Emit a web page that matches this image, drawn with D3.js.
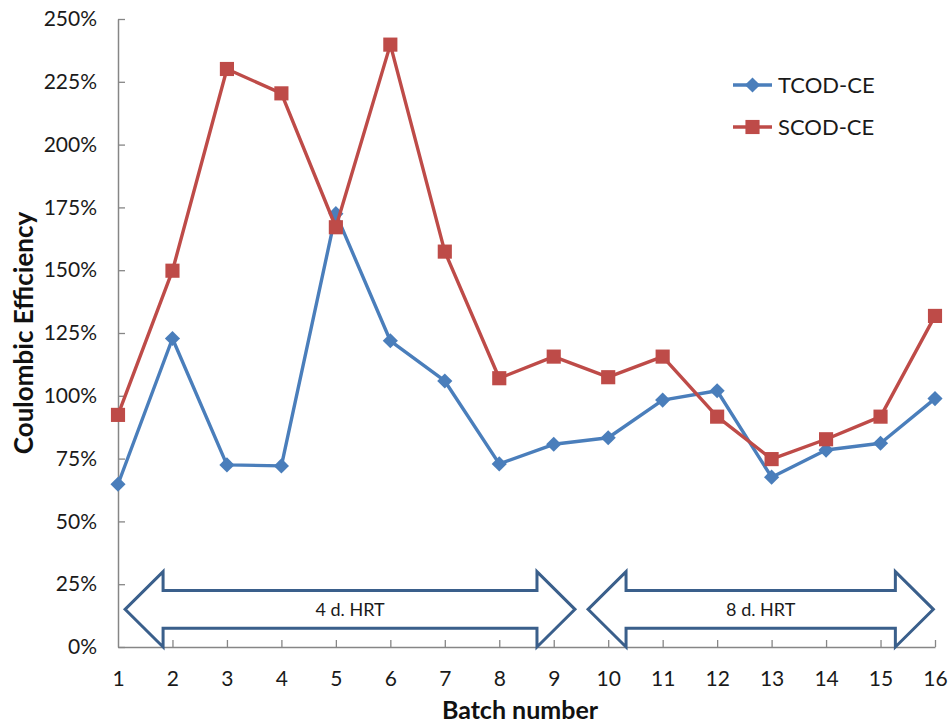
<!DOCTYPE html>
<html>
<head>
<meta charset="utf-8">
<script src="https://cdn.jsdelivr.net/npm/d3@7"></script>
<style>
  html, body { margin: 0; padding: 0; background: #fff; }
  svg { display: block; font-family: Lato, "Open Sans", sans-serif; }
</style>
</head>
<body>
<svg id="chart" width="950" height="727"></svg>
<script>
// Batch numbers and coulombic efficiency (%) per batch
const batches = [1, 2, 3, 4, 5, 6, 7, 8, 9, 10, 11, 12, 13, 14, 15, 16];
const tcodCE = [64.8, 122.8, 72.5, 72.1, 172.5, 121.9, 105.9, 72.9, 80.7, 83.3, 98.3, 102.0, 67.6, 78.4, 81.1, 98.9];
const scodCE = [92.4, 149.8, 230.1, 220.4, 167.1, 239.8, 157.4, 107.0, 115.6, 107.4, 115.6, 91.7, 74.8, 82.7, 91.7, 131.8];
const seriesNames = ["TCOD-CE", "SCOD-CE"];
const yTicks = [0, 25, 50, 75, 100, 125, 150, 175, 200, 225, 250];

// Hydraulic retention time periods, spans in batch units
const hrtLabels = ["4 d. HRT", "8 d. HRT"];
const hrtStart = [1.13, 9.63];
const hrtEnd = [9.39, 15.97];

const colors = { "TCOD-CE": "#4A7EBB", "SCOD-CE": "#BE4B48" };
const axisColor = "#868686";
const arrowColor = "#3A5F8B";

const svg = d3.select("#chart");
const margin = { left: 118, right: 15, top: 19, bottom: 80 };
const W = 950, H = 727;

const x = d3.scaleLinear().domain([1, 16]).range([margin.left, W - margin.right]);
const y = d3.scaleLinear().domain([0, 250]).range([H - margin.bottom, margin.top]);

// Y axis: ticks point inward
const yAxis = d3.axisLeft(y)
  .tickValues(yTicks)
  .tickFormat(d => d + "%")
  .tickSize(-7)
  .tickSizeOuter(0)
  .tickPadding(21);
const gy = svg.append("g").attr("transform", `translate(${margin.left},0)`).call(yAxis);

// X axis
const xAxis = d3.axisBottom(x)
  .tickValues(batches)
  .tickFormat(d3.format("d"))
  .tickSize(-7)
  .tickSizeOuter(0)
  .tickPadding(24);
const gx = svg.append("g").attr("transform", `translate(0,${y(0)})`).call(xAxis);

[gx, gy].forEach(g => {
  g.select(".domain").attr("stroke", axisColor).attr("stroke-width", 1.5);
  g.selectAll(".tick line").attr("stroke", axisColor).attr("stroke-width", 1.3);
  g.selectAll(".tick text").attr("fill", "#1a1a1a").attr("font-size", 21).attr("font-family", "Lato, sans-serif");
});
gx.selectAll(".tick").filter(d => d === 1).select("line").remove();

// Axis titles
svg.append("text")
  .attr("transform", `translate(33,${(y(0) + y(250)) / 2}) rotate(-90)`)
  .attr("text-anchor", "middle")
  .attr("font-weight", "bold")
  .attr("font-size", 26)
  .attr("fill", "#111")
  .text("Coulombic Efficiency");

svg.append("text")
  .attr("x", 520)
  .attr("y", 719)
  .attr("text-anchor", "middle")
  .attr("font-weight", "bold")
  .attr("font-size", 25)
  .attr("fill", "#111")
  .text("Batch number");

// HRT double-headed arrows
const arrowTop = 30, arrowBottom = 0, shaftHalf = 7.5, headLen = 38;
const arrowG = svg.append("g");
hrtLabels.forEach((label, i) => {
  const x0 = x(hrtStart[i]), x1 = x(hrtEnd[i]);
  const ym = y((arrowTop + arrowBottom) / 2);
  const yt = y(arrowTop), yb = y(arrowBottom);
  const st = y((arrowTop + arrowBottom) / 2 + shaftHalf), sb = y((arrowTop + arrowBottom) / 2 - shaftHalf);
  const p = d3.path();
  p.moveTo(x0, ym);
  p.lineTo(x0 + headLen, yt);
  p.lineTo(x0 + headLen, st);
  p.lineTo(x1 - headLen, st);
  p.lineTo(x1 - headLen, yt);
  p.lineTo(x1, ym);
  p.lineTo(x1 - headLen, yb);
  p.lineTo(x1 - headLen, sb);
  p.lineTo(x0 + headLen, sb);
  p.lineTo(x0 + headLen, yb);
  p.closePath();
  arrowG.append("path")
    .attr("d", p.toString())
    .attr("fill", "#fff")
    .attr("stroke", arrowColor)
    .attr("stroke-width", 3)
    .attr("stroke-linejoin", "miter");
  arrowG.append("text")
    .attr("x", (x0 + x1) / 2)
    .attr("y", ym)
    .attr("dy", "0.35em")
    .attr("text-anchor", "middle")
    .attr("font-size", 18)
    .attr("fill", "#1a1a1a")
    .text(label);
});

// Series
const seriesData = [tcodCE, scodCE];
const line = d3.line().x((d, i) => x(batches[i])).y(d => y(d));
const diamond = d3.symbol().type(d3.symbolSquare).size(115);
const square = d3.symbol().type(d3.symbolSquare).size(200);

seriesNames.forEach((name, si) => {
  const vals = seriesData[si];
  const g = svg.append("g");
  g.append("path")
    .datum(vals)
    .attr("d", line)
    .attr("fill", "none")
    .attr("stroke", colors[name])
    .attr("stroke-width", 3.4)
    .attr("stroke-linejoin", "round");
  g.selectAll("path.m")
    .data(vals)
    .join("path")
    .attr("class", "m")
    .attr("d", si === 0 ? diamond() : square())
    .attr("transform", (d, i) => `translate(${x(batches[i])},${y(d)})` + (si === 0 ? " rotate(45)" : ""))
    .attr("fill", colors[name]);
});

// Legend
const legend = svg.append("g").attr("transform", "translate(733,0)");
seriesNames.forEach((name, i) => {
  const ly = 85 + i * 42;
  legend.append("line")
    .attr("x1", 0).attr("x2", 39)
    .attr("y1", ly).attr("y2", ly)
    .attr("stroke", colors[name]).attr("stroke-width", 3.4);
  legend.append("path")
    .attr("d", i === 0 ? diamond() : square())
    .attr("transform", `translate(19.5,${ly})` + (i === 0 ? " rotate(45)" : ""))
    .attr("fill", colors[name]);
  legend.append("text")
    .attr("x", 45).attr("y", ly)
    .attr("dy", "0.35em")
    .attr("font-size", 22)
    .attr("fill", "#1a1a1a")
    .text(name);
});
</script>
</body>
</html>
